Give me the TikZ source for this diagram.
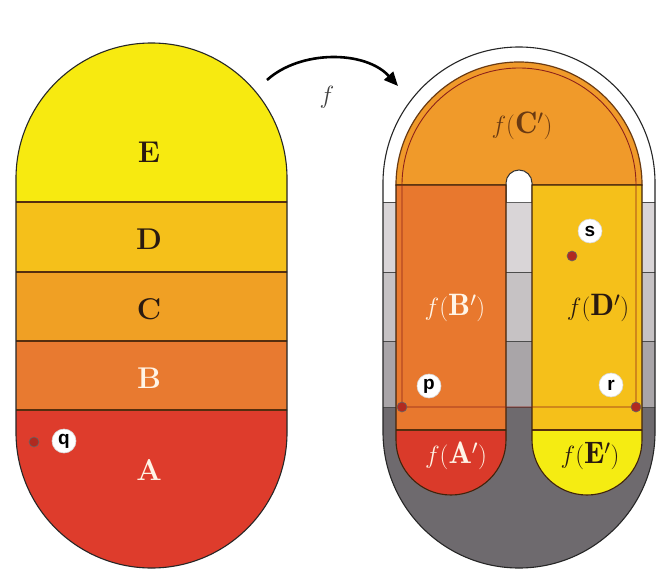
\documentclass[tikz,border=0pt]{standalone}
\usepackage{fontspec}
\newfontfamily\lblfont{Liberation Sans}
\usetikzlibrary{arrows.meta}
\definecolor{cE}{HTML}{F7EA10}
\definecolor{cD}{HTML}{F5C01A}
\definecolor{cC}{HTML}{F0A024}
\definecolor{cB}{HTML}{E87A30}
\definecolor{cA}{HTML}{DE3C2C}
\definecolor{pC}{HTML}{F09A2A}
\definecolor{pB}{HTML}{E8782E}
\definecolor{pD}{HTML}{F5C01A}
\definecolor{pA}{HTML}{DA3A2A}
\definecolor{pE}{HTML}{F5EC12}
\definecolor{gA}{HTML}{D9D5D7}
\definecolor{gB}{HTML}{C6C2C4}
\definecolor{gC}{HTML}{A9A5A8}
\definecolor{gD}{HTML}{6E6A6E}
\definecolor{ink}{HTML}{2A1A10}
\definecolor{brn}{HTML}{6A3A12}
\definecolor{dotred}{HTML}{B02A20}
\definecolor{lite}{HTML}{FFF4E6}
\tikzset{
  bandline/.style={draw=brn!80!black,line width=1.1pt},
  outline/.style={draw=black!85,line width=1.1pt},
  biglbl/.style={font=\fontsize{30}{32}\selectfont\bfseries,inner sep=0pt},
  flbl/.style={font=\fontsize{31}{33}\selectfont,inner sep=0pt},
  ptlbl/.style={circle,fill=white,draw=black!15,line width=0.6pt,minimum size=24pt,inner sep=0pt,font=\lblfont\bfseries\fontsize{19}{19}\selectfont},
  ptdot/.style={circle,fill=dotred,draw=black!60,line width=0.6pt,minimum size=10pt,inner sep=0pt},
  loopline/.style={draw=dotred!80!black,line width=0.9pt}
}
\begin{document}
\begin{tikzpicture}[x=1pt,y=-1pt]
\useasboundingbox (0,0) rectangle (658,575);
\fill[white] (0,0) rectangle (658,575);
% ---------- left shape ----------
\begin{scope}
\clip (16,178.5) arc[start angle=180,end angle=360,radius=135.5] -- (287,432.5) arc[start angle=0,end angle=180,radius=135.5] -- cycle;
\fill[cE] (0,0) rectangle (300,202);
\fill[cD] (0,202) rectangle (300,272);
\fill[cC] (0,272) rectangle (300,341);
\fill[cB] (0,341) rectangle (300,410);
\fill[cA] (0,410) rectangle (300,575);
\draw[bandline] (0,202) -- (300,202);
\draw[bandline] (0,272) -- (300,272);
\draw[bandline] (0,341) -- (300,341);
\draw[bandline] (0,410) -- (300,410);
\end{scope}
\draw[outline] (16,178.5) arc[start angle=180,end angle=360,radius=135.5] -- (287,432.5) arc[start angle=0,end angle=180,radius=135.5] -- cycle;
\node[biglbl,text=ink] (E) at (149,152) {E};
\node[biglbl,text=ink] (D) at (149,239) {D};
\node[biglbl,text=ink] (C) at (149,309) {C};
\node[biglbl,text=lite] (B) at (149,378) {B};
\node[biglbl,text=lite] (A) at (149,470) {A};
\node[ptdot] (qd) at (34,442) {};
\node[ptlbl] (q) at (64,441) {q};
% ---------- arrow ----------
\coordinate (a1) at (267,80);
\coordinate (a2) at (398,86);
\draw[line width=2.6pt,-{Triangle[length=14pt,width=12pt]}] (a1) .. controls (300,50) and (365,50) .. (a2);
\node[font=\fontsize{28}{30}\selectfont,text=black!75] (fl) at (327,97) {$f$};
% ---------- right shape ----------
\begin{scope}
\clip (383,183) arc[start angle=180,end angle=360,radius=136] -- (655,432) arc[start angle=0,end angle=180,radius=136] -- cycle;
\fill[white] (370,0) rectangle (658,202);
\fill[gA] (370,202) rectangle (658,272);
\fill[gB] (370,272) rectangle (658,341);
\fill[gC] (370,341) rectangle (658,407);
\fill[gD] (370,407) rectangle (658,575);
\draw[draw=black!70,line width=1pt] (370,202) -- (658,202);
\draw[draw=black!70,line width=1pt] (370,272) -- (658,272);
\draw[draw=black!70,line width=1pt] (370,341) -- (658,341);
\draw[draw=black!70,line width=1pt] (370,407) -- (658,407);
\end{scope}
\draw[outline] (383,183) arc[start angle=180,end angle=360,radius=136] -- (655,432) arc[start angle=0,end angle=180,radius=136] -- cycle;
% C region
\fill[pC] (396,185) arc[start angle=180,end angle=360,radius=123] -- cycle;
\draw[draw=brn,line width=1.2pt] (396,185) arc[start angle=180,end angle=360,radius=123] -- cycle;
% slot
\fill[white] (506,202) -- (506,183) arc[start angle=180,end angle=360,radius=13] -- (532,202) -- cycle;
\draw[draw=black!80,line width=1pt] (506,202) -- (506,183) arc[start angle=180,end angle=360,radius=13] -- (532,202);
% left finger
\begin{scope}
\clip (396,185) -- (506,185) -- (506,440) arc[start angle=0,end angle=180,radius=55] -- cycle;
\fill[pB] (390,185) rectangle (510,430);
\fill[pA] (390,430) rectangle (510,500);
\draw[draw=brn!80!black,line width=1.1pt] (390,430) -- (510,430);
\end{scope}
\draw[draw=brn!60!black,line width=1.1pt] (396,185) -- (506,185) -- (506,440) arc[start angle=0,end angle=180,radius=55] -- cycle;
% right finger
\begin{scope}
\clip (532,185) -- (642,185) -- (642,440) arc[start angle=0,end angle=180,radius=55] -- cycle;
\fill[pD] (526,185) rectangle (648,430);
\fill[pE] (526,430) rectangle (648,500);
\draw[draw=brn!80!black,line width=1.1pt] (526,430) -- (648,430);
\end{scope}
\draw[draw=brn!60!black,line width=1.1pt] (532,185) -- (642,185) -- (642,440) arc[start angle=0,end angle=180,radius=55] -- cycle;
% thin loop through p and r
\draw[loopline] (402,407) -- (402,185) arc[start angle=180,end angle=360,radius=117] -- (636,407) -- cycle;
% labels
\node[flbl,text=brn] (fC) at (522,126) {$f(\mathbf{C}')$};
\node[flbl,text=lite] (fB) at (455,308) {$f(\mathbf{B}')$};
\node[flbl,text=ink] (fD) at (598,308) {$f(\mathbf{D}')$};
\node[flbl,text=lite] (fA) at (456,456) {$f(\mathbf{A}')$};
\node[flbl,text=ink] (fE) at (590,456) {$f(\mathbf{E}')$};
% points
\node[ptdot] (pd) at (402,407) {};
\node[ptlbl] (p) at (429,386) {p};
\node[ptdot] (rd) at (636,407) {};
\node[ptlbl] (r) at (611,385) {r};
\node[ptdot] (sd) at (572,256) {};
\node[ptlbl] (s) at (590,231) {s};
\end{tikzpicture}
\end{document}
